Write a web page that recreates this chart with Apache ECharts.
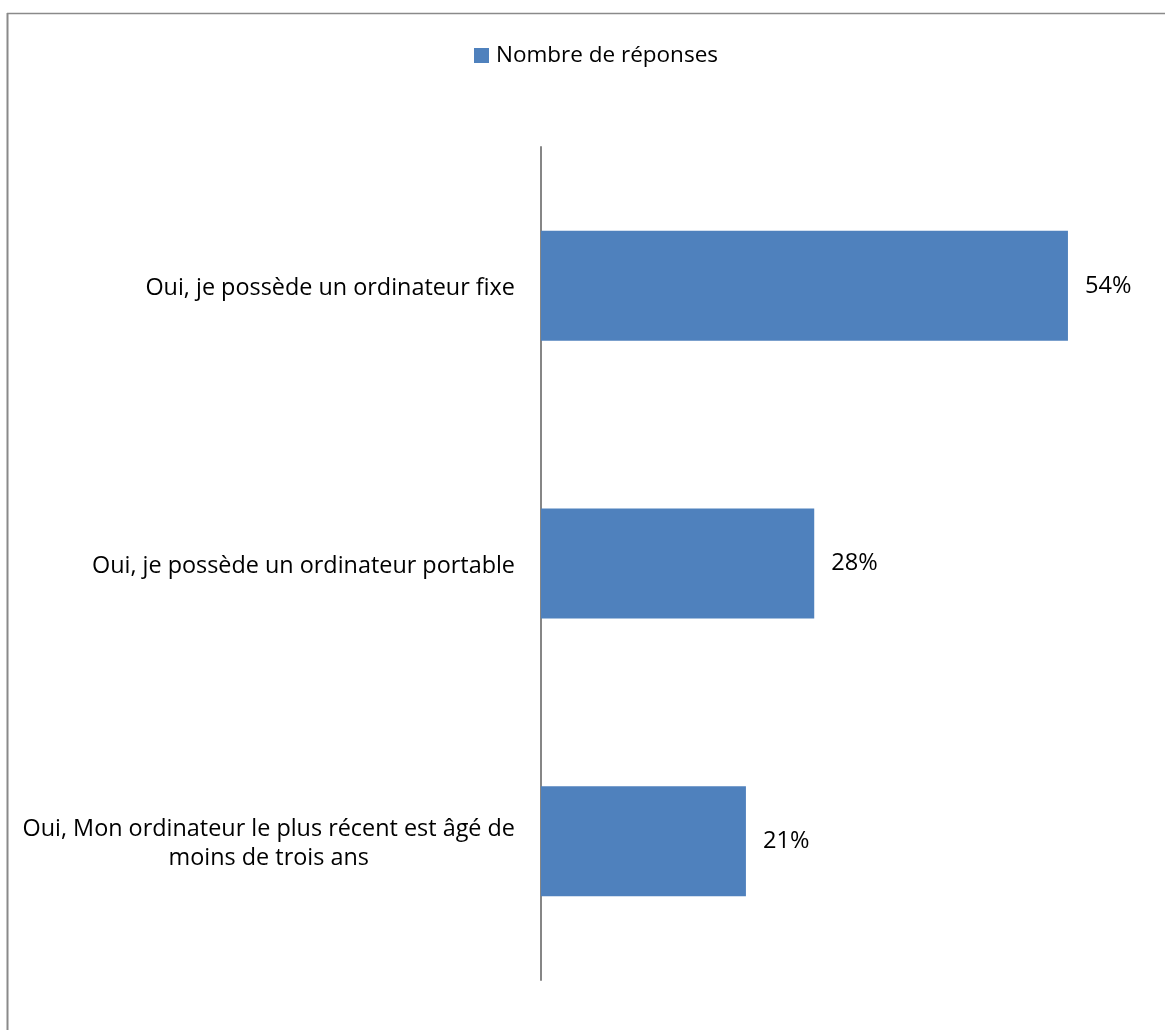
<!DOCTYPE html>
<html>
<head>
<meta charset="utf-8">
<style>
  html, body { margin: 0; padding: 0; background: #ffffff; }
  #chart { width: 1165px; height: 1030px; }
</style>
<script src="https://cdn.jsdelivr.net/npm/echarts@6/dist/echarts.min.js"></script>
</head>
<body>
<div id="chart"></div>
<script>
// Survey answers (computer ownership), share of respondents in percent
const categories = [
  'Oui, je possède un ordinateur fixe',
  'Oui, je possède un ordinateur portable',
  'Oui, Mon ordinateur le plus récent est âgé de\nmoins de trois ans'
];
const values = [54, 28, 21];
const seriesName = 'Nombre de réponses';

const FONT = '"Open Sans", "Liberation Sans", sans-serif';
const LABEL_SIZE = 23.4;
const chart = echarts.init(document.getElementById('chart'), null, { renderer: 'canvas' });

chart.setOption({
  backgroundColor: '#ffffff',
  animation: false,
  graphic: [
    { type: 'line', shape: { x1: 7, y1: 13.5, x2: 1165, y2: 13.5 }, style: { stroke: '#8a8a8a', lineWidth: 1.5 } },
    { type: 'line', shape: { x1: 7.5, y1: 13, x2: 7.5, y2: 1030 }, style: { stroke: '#8a8a8a', lineWidth: 2 } }
  ],
  legend: {
    data: [seriesName],
    left: 474,
    top: 44,
    padding: 0,
    icon: 'rect',
    itemWidth: 15,
    itemHeight: 15,
    itemGap: 10,
    textStyle: { fontFamily: FONT, fontSize: 22.5, color: '#000000', padding: [0, 0, 0, 2] }
  },
  grid: {
    left: 541,
    top: 147,
    width: 585.5,
    height: 833,
    containLabel: false
  },
  xAxis: {
    type: 'value',
    min: 0,
    max: 60,
    show: false
  },
  yAxis: {
    type: 'category',
    inverse: true,
    data: categories,
    axisLine: { show: true, lineStyle: { color: '#868686', width: 2 } },
    axisTick: { show: false },
    splitLine: { show: false },
    axisLabel: {
      margin: 26,
      padding: [6, 0, 0, 0],
      fontFamily: FONT,
      fontSize: LABEL_SIZE,
      color: '#000000',
      lineHeight: 29,
      formatter: function (v) {
        return v.split('\n').map(function (l) { return '{c|' + l + '}'; }).join('\n');
      },
      rich: {
        c: { align: 'center', fontFamily: FONT, fontSize: LABEL_SIZE, color: '#000000', lineHeight: 29 }
      }
    }
  },
  series: [{
    name: seriesName,
    type: 'bar',
    data: values,
    barWidth: 110,
    itemStyle: { color: '#4F81BD' },
    label: {
      show: true,
      position: 'right',
      distance: 17,
      padding: [4, 0, 0, 0],
      formatter: '{c}%',
      fontFamily: FONT,
      fontSize: 23.6,
      color: '#000000'
    }
  }]
});
</script>
</body>
</html>
